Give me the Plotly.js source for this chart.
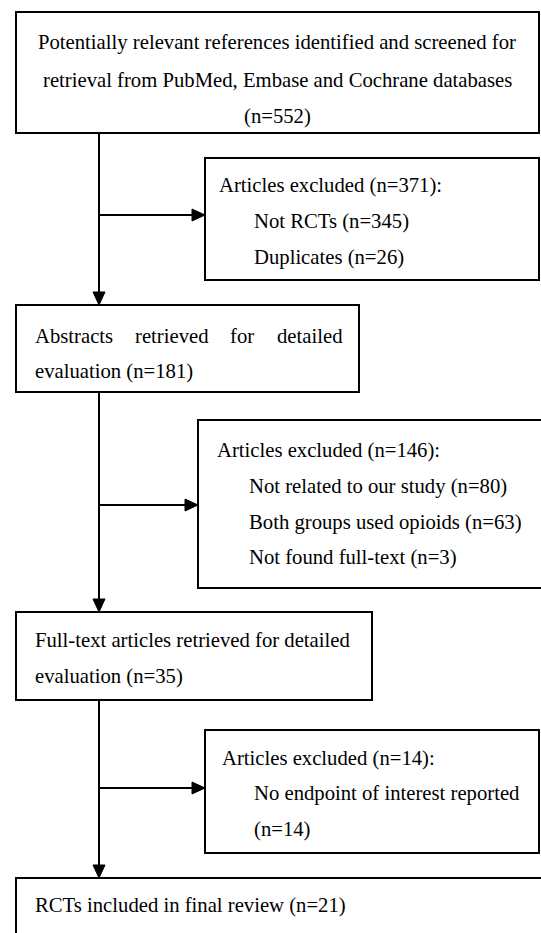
<!DOCTYPE html>
<html><head><meta charset="utf-8">
<script src="https://cdn.plot.ly/plotly-3.0.1.min.js"></script>
<style>html,body{margin:0;padding:0;background:#fff;overflow:hidden}#chart{width:541px;height:933px}</style>
</head><body><div id="chart"></div>
<script>
// ---- data ----
const stageLabels = [
  "Potentially relevant references identified and screened for retrieval from PubMed, Embase and Cochrane databases",
  "Abstracts retrieved for detailed evaluation",
  "Full-text articles retrieved for detailed evaluation",
  "RCTs included in final review"
];
const stageCounts = [552, 181, 35, 21];
const excludedTotals = [371, 146, 14];
const exclusionReasons = [
  ["Not RCTs", "Duplicates"],
  ["Not related to our study", "Both groups used opioids", "Not found full-text"],
  ["No endpoint of interest reported"]
];
const exclusionCounts = [[345, 26], [80, 63, 3], [14]];

// ---- layout (pixel-like axis units, y downwards) ----
const FONT = {family: "'Liberation Serif','Times New Roman',serif", size: 20.7, color: "#000"};
const TRUNK_X = 99;
const stageBoxes = [
  {x0: 16, x1: 539, y0: 12, y1: 133, wrap: [7, 7], align: "center", lines: [42, 80, 116], tx: 277},
  {x0: 16, x1: 359, y0: 305, y1: 392, wrap: [4], align: "justify", lines: [336, 371], tx: 35, tx1: 342},
  {x0: 16, x1: 372, y0: 612, y1: 700, wrap: [5], align: "left", lines: [640, 676], tx: 35},
  {x0: 16, x1: 560, y0: 878, y1: 990, wrap: [], align: "left", lines: [905], tx: 35}
];
const exclBoxes = [
  {x0: 205, x1: 539, y0: 158, y1: 280, lines: [185, 221, 257], tx: 219, ix: 254, arrowY: 215, wrapCount: false},
  {x0: 198, x1: 560, y0: 420, y1: 588, lines: [450, 486, 522, 557], tx: 217, ix: 249, arrowY: 505, wrapCount: false},
  {x0: 205, x1: 539, y0: 730, y1: 853, lines: [758, 793, 829], tx: 222, ix: 254, arrowY: 788, wrapCount: true}
];

const shapes = [];
const annotations = [];
const LINE = {color: "#000", width: 2};

function rect(b) {
  shapes.push({type: "rect", xref: "x", yref: "y", x0: b.x0, x1: b.x1, y0: b.y0, y1: b.y1, line: LINE, fillcolor: "rgba(0,0,0,0)"});
}
function seg(x0, y0, x1, y1) {
  shapes.push({type: "line", xref: "x", yref: "y", x0, y0, x1, y1, line: LINE});
}
function headDown(x, y) {
  shapes.push({type: "path", xref: "x", yref: "y", path: `M ${x - 6} ${y - 13} L ${x + 6} ${y - 13} L ${x} ${y} Z`, fillcolor: "#000", line: {color: "#000", width: 1}});
}
function headRight(x, y) {
  shapes.push({type: "path", xref: "x", yref: "y", path: `M ${x - 13} ${y - 6} L ${x - 13} ${y + 6} L ${x} ${y} Z`, fillcolor: "#000", line: {color: "#000", width: 1}});
}
function text(t, x, y, anchor) {
  annotations.push({text: t, x, y, xref: "x", yref: "y", xanchor: anchor, yanchor: "middle", showarrow: false, font: FONT, borderpad: 0, borderwidth: 0});
}

// stage boxes
stageBoxes.forEach((b, i) => {
  rect(b);
  const words = stageLabels[i].split(" ");
  const lines = [];
  let k = 0;
  b.wrap.forEach(n => { lines.push(words.slice(k, k + n)); k += n; });
  const rest = words.slice(k);
  rest.push("(n=" + stageCounts[i] + ")");
  lines.push(rest);
  lines.forEach((ws, li) => {
    const y = b.lines[li];
    if (b.align === "center") {
      text(ws.join(" "), b.tx, y, "center");
    } else if (b.align === "justify" && li < lines.length - 1) {
      const c = document.createElement("canvas").getContext("2d");
      c.font = FONT.size + "px 'Liberation Serif'";
      const widths = ws.map(w => c.measureText(w).width);
      const total = widths.reduce((a, v) => a + v, 0);
      const gap = (b.tx1 - b.tx - total) / (ws.length - 1);
      let x = b.tx;
      ws.forEach((w, wi) => { text(w, x, y, "left"); x += widths[wi] + gap; });
    } else {
      text(ws.join(" "), b.tx, y, "left");
    }
  });
});

// exclusion boxes
exclBoxes.forEach((b, i) => {
  rect(b);
  text("Articles excluded (n=" + excludedTotals[i] + "):", b.tx, b.lines[0], "left");
  let li = 1;
  exclusionReasons[i].forEach((r, j) => {
    if (b.wrapCount) {
      text(r, b.ix, b.lines[li++], "left");
      text("(n=" + exclusionCounts[i][j] + ")", b.ix, b.lines[li++], "left");
    } else {
      text(r + " (n=" + exclusionCounts[i][j] + ")", b.ix, b.lines[li++], "left");
    }
  });
  seg(TRUNK_X, b.arrowY, b.x0 - 10, b.arrowY);
  headRight(b.x0, b.arrowY);
});

// trunk between stage boxes
for (let i = 0; i < stageBoxes.length - 1; i++) {
  seg(TRUNK_X, stageBoxes[i].y1, TRUNK_X, stageBoxes[i + 1].y0 - 10);
  headDown(TRUNK_X, stageBoxes[i + 1].y0);
}

const layout = {
  width: 541, height: 933,
  margin: {l: 0, r: 0, t: 0, b: 0},
  paper_bgcolor: "#fff", plot_bgcolor: "#fff",
  showlegend: false,
  xaxis: {range: [0, 541], visible: false, fixedrange: true},
  yaxis: {range: [933, 0], visible: false, fixedrange: true},
  shapes, annotations
};
Plotly.newPlot("chart", [{x: [], y: [], type: "scatter", mode: "markers", hoverinfo: "skip"}], layout, {staticPlot: true, displayModeBar: false});
</script>
</body></html>
